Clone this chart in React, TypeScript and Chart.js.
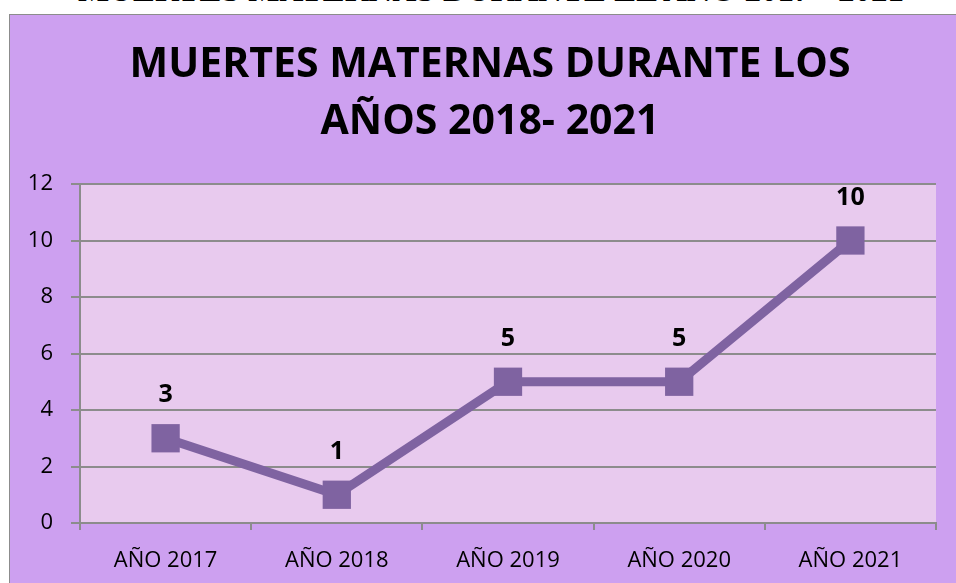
import React, { useEffect, useRef } from "react";
import { Chart, registerables } from "chart.js";

Chart.register(...registerables);

const headerText = "MUERTES MATERNAS DURANTE EL AÑO 2017 - 2021";
const titleLines = ["MUERTES MATERNAS DURANTE LOS", "AÑOS 2018- 2021"];
const categories = ["AÑO 2017", "AÑO 2018", "AÑO 2019", "AÑO 2020", "AÑO 2021"];
const deaths = [3, 1, 5, 5, 10];
const yTicks = [0, 2, 4, 6, 8, 10, 12];

const OUTER_BG = "#CDA0F0";
const PLOT_BG = "#E8CAEE";
const LINE = "#7F63A1";
const GRID = "#8C8C8C";
const FONT = "'Open Sans', sans-serif";

const plotBgPlugin = {
  id: "plotBg",
  beforeDraw(chart: any) {
    const { ctx, chartArea } = chart;
    ctx.save();
    ctx.fillStyle = PLOT_BG;
    ctx.fillRect(chartArea.left, chartArea.top, chartArea.right - chartArea.left, chartArea.bottom - chartArea.top);
    ctx.restore();
  },
};

const titlePlugin = {
  id: "boxTitle",
  afterDraw(chart: any) {
    const { ctx } = chart;
    ctx.save();
    ctx.fillStyle = "#000";
    ctx.font = `bold 41px ${FONT}`;
    ctx.textAlign = "center";
    ctx.textBaseline = "alphabetic";
    titleLines.forEach((line, i) => {
      ctx.fillText(line, 490, 77 + i * 57);
    });
    ctx.restore();
  },
};

const labelPlugin = {
  id: "valueLabels",
  afterDatasetsDraw(chart: any) {
    const { ctx } = chart;
    const meta = chart.getDatasetMeta(0);
    ctx.save();
    ctx.fillStyle = "#000";
    ctx.font = `bold 25px ${FONT}`;
    ctx.textAlign = "center";
    ctx.textBaseline = "middle";
    meta.data.forEach((pt: any, i: number) => {
      ctx.fillText(String(deaths[i]), pt.x, pt.y - 43);
    });
    ctx.restore();
  },
};

export default function App() {
  const ref = useRef<HTMLCanvasElement | null>(null);
  useEffect(() => {
    if (!ref.current) return;
    const chart = new Chart(ref.current, {
      type: "line",
      data: {
        labels: categories,
        datasets: [
          {
            data: deaths,
            borderColor: LINE,
            backgroundColor: LINE,
            borderWidth: 9,
            pointStyle: "rect",
            pointRadius: 20,
            pointHoverRadius: 20,
            pointBorderWidth: 0,
            pointBackgroundColor: LINE,
            tension: 0,
          },
        ],
      },
      options: {
        animation: false,
        responsive: false,
        maintainAspectRatio: false,
        layout: { padding: { left: 9, right: 15, top: 184, bottom: 0 } },
        plugins: {
          legend: { display: false },
          tooltip: { enabled: false },
          title: { display: false },
        },
        scales: {
          x: {
            offset: true,
            grid: {
              display: true,
              offset: true,
              drawOnChartArea: false,
              drawTicks: true,
              tickLength: 7,
              color: GRID,
              lineWidth: 2,
            },
            border: { display: true, color: GRID, width: 2 },
            ticks: { color: "#000", font: { family: FONT, size: 22 }, padding: 18, maxRotation: 0 },
            afterFit(scale: any) {
              scale.height = 60;
            },
          },
          y: {
            min: 0,
            max: 12,
            afterBuildTicks(scale: any) {
              scale.ticks = yTicks.map((v) => ({ value: v }));
            },
            grid: { color: GRID, lineWidth: 2, tickLength: 9, drawTicks: true },
            border: { display: true, color: GRID, width: 2 },
            ticks: { color: "#000", font: { family: FONT, size: 22 }, padding: 18 },
            afterFit(scale: any) {
              scale.width = 71;
            },
          },
        },
      },
      plugins: [plotBgPlugin, labelPlugin, titlePlugin],
    });
    return () => chart.destroy();
  }, []);

  return (
    <div style={{ position: "fixed", left: 0, top: 0, width: 956, height: 583, overflow: "hidden", background: "#fff" }}>
      <div
        style={{
          position: "absolute",
          left: 0,
          width: 982,
          top: -28,
          textAlign: "center",
          fontFamily: "'Liberation Serif', serif",
          fontWeight: "bold",
          fontSize: 33,
          lineHeight: "36px",
          whiteSpace: "nowrap",
          color: "#000",
        }}
      >
        {headerText}
      </div>
      <div
        style={{
          position: "absolute",
          left: 9,
          top: 14,
          width: 980,
          height: 600,
          background: OUTER_BG,
          border: "1px solid #8C8C8C",
        }}
      />
      <canvas ref={ref} width={956} height={583} style={{ position: "absolute", left: 0, top: 0, width: 956, height: 583 }} />
    </div>
  );
}
